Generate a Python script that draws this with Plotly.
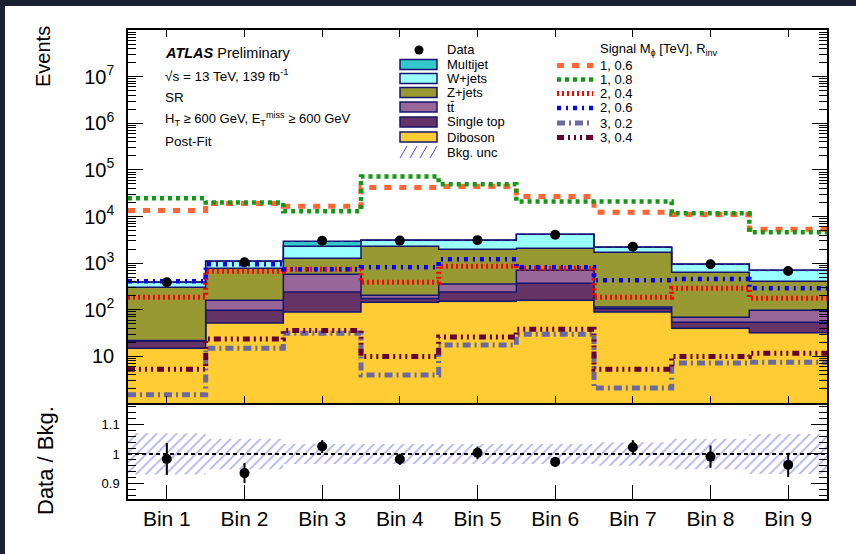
import plotly.graph_objects as go

# ---------------- data ----------------
bins = ["Bin 1", "Bin 2", "Bin 3", "Bin 4", "Bin 5", "Bin 6", "Bin 7", "Bin 8", "Bin 9"]

diboson    = [15, 52, 89, 145, 152, 160, 89, 40, 32]
single_top = [6, 46, 151, 30, 88, 210, 16, 14, 22]
ttbar      = [1, 62, 340, 30, 115, 335, 9, 15, 44]
zjets      = [283, 620, 690, 2095, 1635, 1385, 1596, 571, 312]
wjets      = [85, 320, 1030, 800, 1110, 2060, 480, 310, 290]
multijet   = [5, 10, 650, 20, 20, 30, 15, 5, 5]

data = [390, 1040, 3020, 3040, 3110, 4070, 2255, 946, 679]

sig_1_06 = [13500, 19000, 16500, 42000, 44000, 27000, 12300, 11100, 5300]
sig_1_08 = [24500, 20000, 13000, 72000, 49000, 21000, 21000, 11700, 4600]
sig_2_04 = [186, 670, 740, 390, 860, 780, 186, 290, 177]
sig_2_06 = [410, 950, 740, 815, 1210, 815, 430, 455, 290]
sig_3_02 = [1.5, 15, 31.5, 4.0, 17.5, 30, 2.1, 7.2, 7.5]
sig_3_04 = [5.3, 23.5, 36, 10, 26, 38, 5.3, 10, 11.7]

ratio     = [0.983, 0.935, 1.025, 0.982, 1.004, 0.973, 1.023, 0.991, 0.963]
ratio_err = [0.054, 0.034, 0.022, 0.019, 0.021, 0.017, 0.024, 0.038, 0.041]
bkg_unc   = [0.070, 0.052, 0.034, 0.034, 0.034, 0.034, 0.040, 0.052, 0.068]

main_tick_vals = [1e1, 1e2, 1e3, 1e4, 1e5, 1e6, 1e7]
main_tick_text = ["10", "10<sup>2</sup>", "10<sup>3</sup>", "10<sup>4</sup>",
                  "10<sup>5</sup>", "10<sup>6</sup>", "10<sup>7</sup>"]
ratio_tick_vals = [0.9, 1.0, 1.1]
ratio_tick_text = ["0.9", "1", "1.1"]

# ---------------- layout helpers ----------------
W, H = 856, 554
L, R, T, B = 128, 827, 30, 499
SPLIT = 403
FONT = "Liberation Sans, Arial, sans-serif"
OUTLINE = "#14146e"
HATCH = "#4a4ae8"


def px(x):
    return (x - L) / (R - L)


def py(y):
    return (B - y) / (B - T)


n = len(bins)
edges = list(range(n + 1))
centers = [i + 0.5 for i in range(n)]


def step(vals):
    return list(vals) + [vals[-1]]


fig = go.Figure()

# ---------------- stacked backgrounds ----------------
layers = [
    ("Diboson", diboson, "#ffcc33"),
    ("Single top", single_top, "#663366"),
    ("tt\u0304", ttbar, "#996699"),
    ("Z+jets", zjets, "#999933"),
    ("W+jets", wjets, "#99ffff"),
    ("Multijet", multijet, "#33c8cc"),
]
cum = [0.0] * n
for i, (name, vals, col) in enumerate(layers):
    cum = [c + v for c, v in zip(cum, vals)]
    fig.add_trace(go.Scatter(
        x=edges, y=step(cum), mode="lines",
        line=dict(shape="hv", color=OUTLINE, width=1.5),
        fill="tozeroy" if i == 0 else "tonexty", fillcolor=col,
        xaxis="x2", yaxis="y2", showlegend=False, hoverinfo="skip"))
total = cum

hatch = dict(shape="/", fgcolor=HATCH, bgcolor="rgba(0,0,0,0)", size=7, solidity=0.22)

# background uncertainty band on the main panel
fig.add_trace(go.Scatter(
    x=edges, y=step([t * (1 - u) for t, u in zip(total, bkg_unc)]), mode="lines",
    line=dict(shape="hv", width=0), xaxis="x2", yaxis="y2",
    showlegend=False, hoverinfo="skip"))
fig.add_trace(go.Scatter(
    x=edges, y=step([t * (1 + u) for t, u in zip(total, bkg_unc)]), mode="lines",
    line=dict(shape="hv", width=0), fill="tonexty", fillcolor="rgba(0,0,0,0)",
    fillpattern=hatch, xaxis="x2", yaxis="y2", showlegend=False, hoverinfo="skip"))

# ---------------- signals ----------------
signals = [
    ("1, 0.6", sig_1_06, "#ff6633", 5, "7px,8px"),
    ("1, 0.8", sig_1_08, "#119911", 4.5, "4px,4px"),
    ("2, 0.4", sig_2_04, "#ff0000", 5, "2px,3px"),
    ("2, 0.6", sig_2_06, "#0000ff", 4.5, "4px,5px,2px,5px"),
    ("3, 0.2", sig_3_02, "#6a6aa0", 5, "8px,4px,2px,4px"),
    ("3, 0.4", sig_3_04, "#660033", 5, "7px,4px,2px,4px,2px,4px,2px,4px"),
]
for name, vals, col, w, dash in signals:
    fig.add_trace(go.Scatter(
        x=edges, y=step(vals), mode="lines",
        line=dict(shape="hv", color=col, width=w, dash=dash),
        xaxis="x2", yaxis="y2", showlegend=False, hoverinfo="skip"))

# ---------------- data ----------------
fig.add_trace(go.Scatter(
    x=centers, y=data, mode="markers",
    marker=dict(color="black", size=10),
    xaxis="x2", yaxis="y2", showlegend=False))

# ---------------- ratio panel ----------------
fig.add_trace(go.Scatter(
    x=edges, y=step([1 - u for u in bkg_unc]), mode="lines",
    line=dict(shape="hv", width=0), xaxis="x", yaxis="y",
    showlegend=False, hoverinfo="skip"))
fig.add_trace(go.Scatter(
    x=edges, y=step([1 + u for u in bkg_unc]), mode="lines",
    line=dict(shape="hv", width=0), fill="tonexty", fillcolor="rgba(0,0,0,0)",
    fillpattern=hatch, xaxis="x", yaxis="y", showlegend=False, hoverinfo="skip"))
fig.add_trace(go.Scatter(
    x=[edges[0], edges[-1]], y=[1, 1], mode="lines",
    line=dict(color="black", width=2, dash="4px,3px"),
    xaxis="x", yaxis="y", showlegend=False, hoverinfo="skip"))
fig.add_trace(go.Scatter(
    x=centers, y=ratio, mode="markers",
    marker=dict(color="black", size=10),
    error_y=dict(type="data", array=ratio_err, color="black", thickness=2, width=0),
    xaxis="x", yaxis="y", showlegend=False))

# ---------------- axes ----------------
axis_common = dict(showline=True, linecolor="black", linewidth=1.5, showgrid=False,
                   zeroline=False, tickcolor="black", tickwidth=1.2)
fig.update_layout(
    width=W, height=H,
    margin=dict(l=L, r=W - R, t=T, b=H - B),
    paper_bgcolor="white", plot_bgcolor="white", showlegend=False,
    font=dict(family=FONT, color="black"),
    xaxis=dict(domain=[0, 1], anchor="y", range=[0, n], tickmode="array",
               tickvals=centers, ticktext=bins, ticks="inside", ticklen=14,
               mirror=True, tickfont=dict(size=21, family=FONT, color="black"),
               **axis_common),
    yaxis=dict(domain=[0, py(SPLIT)], anchor="x", range=[0.847, 1.173],
               tickmode="array", tickvals=ratio_tick_vals, ticktext=ratio_tick_text,
               ticks="inside", ticklen=16, mirror="allticks", ticklabelstandoff=4,
               minor=dict(dtick=0.02, tick0=0, ticks="inside", ticklen=8,
                          tickcolor="black", showgrid=False),
               tickfont=dict(size=13, family=FONT, color="black"), **axis_common),
    xaxis2=dict(domain=[0, 1], anchor="y2", range=[0, n], matches="x",
                tickmode="array", tickvals=centers, showticklabels=False,
                ticks="inside", ticklen=7, mirror="allticks", **axis_common),
    yaxis2=dict(domain=[py(SPLIT), 1], anchor="x2", type="log", range=[0, 8],
                tickmode="array", tickvals=main_tick_vals, ticktext=main_tick_text,
                ticks="inside", ticklen=15, mirror="allticks", ticklabelstandoff=8,
                minor=dict(dtick="D1", ticks="inside", ticklen=8, tickcolor="black",
                           showgrid=False),
                tickfont=dict(size=20, family=FONT, color="black"), **axis_common),
)

# ---------------- text annotations ----------------
ann = []


def text(x, y, s, size=13, xanchor="left", angle=0, yanchor="middle"):
    ann.append(dict(x=px(x), y=py(y), xref="paper", yref="paper", text=s,
                    showarrow=False, xanchor=xanchor, yanchor=yanchor,
                    textangle=angle, font=dict(size=size, family=FONT, color="black")))


text(43, 57, "Events", size=20, xanchor="center", angle=-90)
text(45, 461, "Data / Bkg.", size=22, xanchor="center", angle=-90)

text(163, 53, "<b><i>ATLAS</i></b> Preliminary", size=14.5)
text(163, 75, "\u221as = 13 TeV, 139 fb<sup>-1</sup>", size=13.5)
text(163, 97, "SR", size=13.5)
text(163, 119, "H<sub>T</sub> \u2265 600 GeV, E<sub>T</sub><sup>miss</sup> \u2265 600 GeV", size=13)
text(163, 141, "Post-Fit", size=13.5)

shapes = []
# left legend column
legend_rows = [50, 64.5, 78.5, 92.5, 107, 122, 137, 152]
text(445, legend_rows[0], "Data")
shapes.append(dict(type="circle", xref="paper", yref="paper",
                   x0=px(414.5), x1=px(423.5), y0=py(legend_rows[0] + 4.5),
                   y1=py(legend_rows[0] - 4.5), fillcolor="black",
                   line=dict(color="black", width=0)))
for row, (name, vals, col) in zip(legend_rows[1:7], reversed(layers)):
    text(445, row, name)
    shapes.append(dict(type="rect", xref="paper", yref="paper",
                       x0=px(400), x1=px(437), y0=py(row + 5), y1=py(row - 5),
                       fillcolor=col, line=dict(color=OUTLINE, width=1.5)))
text(445, legend_rows[7], "Bkg. unc")
for k in range(4):
    x0 = 400 + k * 10
    shapes.append(dict(type="line", xref="paper", yref="paper",
                       x0=px(x0), x1=px(x0 + 7), y0=py(legend_rows[7] + 6),
                       y1=py(legend_rows[7] - 6), line=dict(color=HATCH, width=1)))

# right legend column (signals)
sig_rows = [65.5, 79.5, 93.5, 108, 123, 137.5]
text(598, 49, "Signal M<sub>\u03d5</sub> [TeV], R<sub>inv</sub>")
for row, (name, vals, col, w, dash) in zip(sig_rows, signals):
    text(598, row, name)
    shapes.append(dict(type="line", xref="paper", yref="paper",
                       x0=px(557), x1=px(593), y0=py(row), y1=py(row),
                       line=dict(color=col, width=w, dash=dash)))

# dark screenshot border (top and left)
shapes.append(dict(type="rect", xref="paper", yref="paper", x0=px(0), x1=px(W),
                   y0=py(6), y1=py(0), fillcolor="#1b2130", line=dict(width=0), layer="above"))
shapes.append(dict(type="rect", xref="paper", yref="paper", x0=px(0), x1=px(5),
                   y0=py(H), y1=py(0), fillcolor="#1b2130", line=dict(width=0), layer="above"))

fig.update_layout(annotations=ann, shapes=shapes)
fig.write_html("out.html")
